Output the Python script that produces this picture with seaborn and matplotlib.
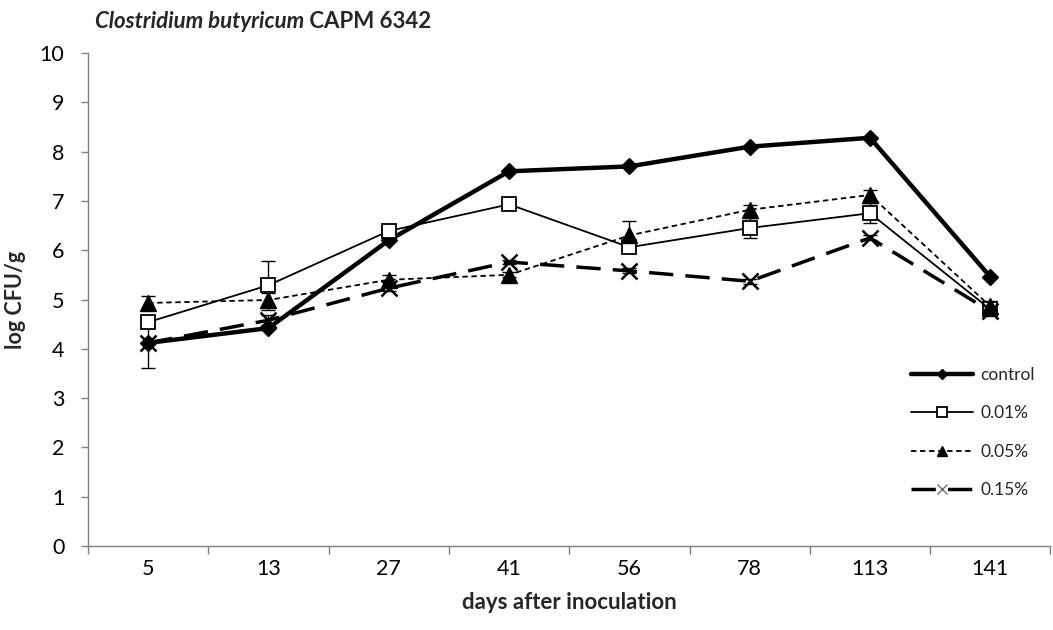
import matplotlib
matplotlib.use("Agg")
import matplotlib.pyplot as plt
import seaborn as sns
import numpy as np

days = ["5", "13", "27", "41", "56", "78", "113", "141"]
control = [4.12, 4.42, 6.2, 7.6, 7.7, 8.1, 8.28, 5.46]
p001 = [4.54, 5.29, 6.39, 6.93, 6.06, 6.45, 6.75, 4.8]
p005 = [4.93, 4.99, 5.4, 5.5, 6.3, 6.82, 7.12, 4.86]
p015 = [4.12, 4.58, 5.23, 5.76, 5.58, 5.37, 6.25, 4.76]
err001 = [0.1, 0.5, 0.05, 0.05, 0.05, 0.2, 0.2, 0.1]
err005 = [0.15, 0.15, 0.1, 0.05, 0.3, 0.1, 0.1, 0.1]
err015 = [0.5, 0.1, 0.05, 0.05, 0.05, 0.05, 0.05, 0.1]
labels = ["control", "0.01%", "0.05%", "0.15%"]

sns.set_theme(style="white")
plt.rcParams['font.family'] = ['Lato', 'DejaVu Sans']

fig = plt.figure(figsize=(10.53, 6.3), dpi=100)
ax = fig.add_axes([0.0836, 0.1333, 0.914, 0.7826])

x = np.arange(len(days))

styles = [
    dict(data=control, err=None, lw=3.2, ls='-', marker='D', ms=8, mfc='black', mew=1),
    dict(data=p001, err=err001, lw=1.3, ls='-', marker='s', ms=10, mfc='white', mew=1.3),
    dict(data=p005, err=err005, lw=1.3, ls=(0, (3, 2)), marker='^', ms=11, mfc='black', mew=1),
    dict(data=p015, err=err015, lw=2.5, ls=(0, (7, 3.5)), marker='x', ms=11, mfc='black', mew=1.8),
]

for lab, st in zip(labels, styles):
    if st['err'] is not None:
        ax.errorbar(x, st['data'], yerr=st['err'], fmt='none', ecolor='black',
                    elinewidth=1, capsize=5, capthick=1, zorder=2)
    sns.lineplot(x=x, y=st['data'], ax=ax, color='black', linewidth=st['lw'],
                 linestyle=st['ls'], marker=st['marker'], markersize=st['ms'],
                 markerfacecolor=st['mfc'], markeredgecolor='black',
                 markeredgewidth=st['mew'], label=lab, zorder=3)

ax.set_xlim(-0.5, len(days) - 0.5)
ax.set_ylim(0, 10)
ax.set_yticks(range(0, 11))
ax.set_xticks(x)
ax.set_xticklabels(days)
ax.set_xticks(np.arange(-0.5, len(days) + 0.5, 1), minor=True)
ax.tick_params(axis='x', which='major', length=0, labelsize=15.5, pad=9, colors='black')
ax.tick_params(axis='x', which='minor', length=6, width=1, color='#808080', bottom=True)
ax.tick_params(axis='y', length=5, width=1, color='#808080', left=True, labelsize=15.5,
               colors='black', pad=12)

for s in ['top', 'right']:
    ax.spines[s].set_visible(False)
for s in ['left', 'bottom']:
    ax.spines[s].set_color('#808080')
    ax.spines[s].set_linewidth(1)

ax.set_xlabel("days after inoculation", fontsize=16, fontweight='bold', labelpad=10)
ax.set_ylabel("log CFU/g", fontsize=15.5, fontweight='bold', labelpad=10)

leg = ax.legend(loc='lower right', bbox_to_anchor=(1.0, 0.065), frameon=False,
                fontsize=12.5, handlelength=3.6, labelspacing=1.3, handletextpad=0.4,
                markerscale=0.7)
leg.get_lines()[3].set_markeredgecolor('#707070')
leg.get_lines()[3].set_markeredgewidth(1.0)

t = fig.text(0.090, 0.955, "Clostridium butyricum", fontsize=16, fontweight='bold',
             fontstyle='italic', va='baseline')
ax.annotate(" CAPM 6342", xy=(1, 0), xycoords=t, fontsize=16, fontweight='bold',
            va='bottom', ha='left', annotation_clip=False)

fig.savefig("out.png", dpi=100)
